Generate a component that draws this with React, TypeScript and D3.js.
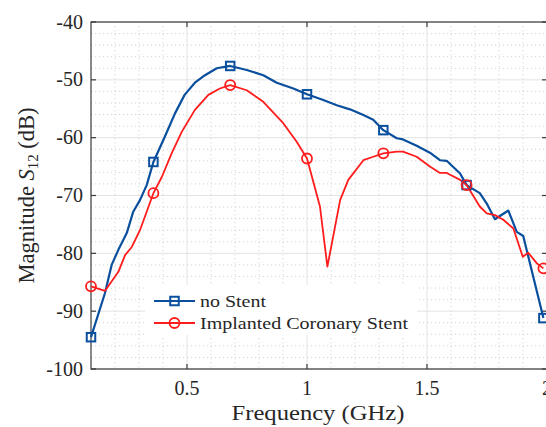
import React from "react";
import * as d3 from "d3";

const freqNoStent = [0.1, 0.158, 0.186, 0.214, 0.249, 0.276, 0.304, 0.332, 0.36, 0.408, 0.45, 0.49, 0.533, 0.575, 0.624, 0.68, 0.749, 0.818, 0.874, 0.943, 1.0, 1.068, 1.124, 1.179, 1.235, 1.276, 1.318, 1.374, 1.4, 1.457, 1.512, 1.554, 1.582, 1.638, 1.665, 1.72, 1.749, 1.783, 1.839, 1.874, 1.901, 1.985];
const valNoStent = [-94.5, -86.9, -82.0, -79.4, -76.5, -72.8, -70.8, -68.2, -64.2, -59.8, -55.8, -52.6, -50.5, -49.2, -48.0, -47.6, -48.3, -49.2, -50.5, -51.5, -52.5, -53.5, -54.4, -55.1, -56.1, -56.9, -58.7, -60.1, -60.3, -61.4, -62.6, -63.9, -64.0, -66.2, -68.2, -69.6, -71.4, -74.1, -72.6, -76.3, -77.0, -91.2];

const freqStent = [0.1, 0.158, 0.214, 0.242, 0.27, 0.304, 0.332, 0.36, 0.395, 0.436, 0.478, 0.533, 0.589, 0.637, 0.68, 0.749, 0.818, 0.901, 0.957, 1.0, 1.054, 1.085, 1.138, 1.172, 1.235, 1.276, 1.318, 1.374, 1.4, 1.457, 1.512, 1.554, 1.582, 1.638, 1.665, 1.72, 1.749, 1.783, 1.818, 1.86, 1.899, 1.922, 1.957, 1.985];
const valStent = [-85.7, -86.5, -83.2, -80.3, -78.9, -76.0, -72.8, -69.6, -66.8, -62.7, -59.0, -55.2, -52.6, -51.5, -50.9, -51.8, -53.8, -57.5, -60.7, -63.6, -71.9, -82.3, -70.8, -67.3, -63.9, -63.3, -62.7, -62.4, -62.4, -63.3, -65.0, -66.1, -66.1, -67.3, -68.2, -71.9, -73.1, -73.4, -74.2, -75.7, -80.6, -79.9, -81.7, -82.6];

const markerFreqs = [0.1, 0.36, 0.68, 1.0, 1.318, 1.665, 1.985];

const xMajorTicks = [0.5, 1, 1.5, 2];
const xTickLabels = ["0.5", "1", "1.5", "2"];
const yMajorTicks = [-40, -50, -60, -70, -80, -90, -100];
const yTickLabels = ["-40", "-50", "-60", "-70", "-80", "-90", "-100"];

const seriesNames = ["no Stent", "Implanted Coronary Stent"];

const BLUE = "#0a4f9e";
const RED = "#ff1c1c";
const FONT = "'Liberation Serif', 'DejaVu Serif', serif";

export default function App() {
  const W = 546, H = 427;
  const L = 91, T = 22, R = 547, B = 369;
  const x = d3.scaleLinear().domain([0.1, 2]).range([L, R]);
  const y = d3.scaleLinear().domain([-100, -40]).range([B, T]);

  const line = d3.line<[number, number]>().x(d => x(d[0])).y(d => y(d[1]));
  const blueData: [number, number][] = freqNoStent.map((f, i) => [f, valNoStent[i]]);
  const redData: [number, number][] = freqStent.map((f, i) => [f, valStent[i]]);
  const blueMarks = blueData.filter(d => markerFreqs.some(m => Math.abs(m - d[0]) < 1e-6));
  const redMarks = redData.filter(d => markerFreqs.some(m => Math.abs(m - d[0]) < 1e-6));

  const xMinor = d3.range(2, 20).map(i => i / 10).filter(v => !xMajorTicks.some(t => Math.abs(t - v) < 1e-6));
  const yMinor = d3.range(-98, -40, 2).filter(v => v % 10 !== 0);
  const sq = 8.5;

  return (
    <svg width={W} height={H} style={{ position: "absolute", left: 0, top: 0, background: "#fff" }} fontFamily={FONT}>
      <defs>
        <clipPath id="plotclip">
          <rect x={L - 6} y={T - 6} width={R - L + 12} height={B - T + 12} />
        </clipPath>
      </defs>
      <rect x={L} y={T} width={R - L} height={B - T} fill="#fff" />
      {xMinor.map(v => (
        <line key={"xm" + v} x1={x(v)} x2={x(v)} y1={T} y2={B} stroke="#c8c8c8" strokeWidth={0.8} strokeDasharray="1.2,2.8" />
      ))}
      {yMinor.map(v => (
        <line key={"ym" + v} x1={L} x2={R} y1={y(v)} y2={y(v)} stroke="#c8c8c8" strokeWidth={0.8} strokeDasharray="1.2,2.8" />
      ))}
      {xMajorTicks.map(v => (
        <line key={"xg" + v} x1={x(v)} x2={x(v)} y1={T} y2={B} stroke="#e3e3e3" strokeWidth={1} />
      ))}
      {yMajorTicks.map(v => (
        <line key={"yg" + v} x1={L} x2={R} y1={y(v)} y2={y(v)} stroke="#e3e3e3" strokeWidth={1} />
      ))}
      <rect x={L} y={T} width={R - L} height={B - T} fill="none" stroke="#3a3a3a" strokeWidth={1.2} />
      {xMajorTicks.map(v => (
        <g key={"xt" + v}>
          <line x1={x(v)} x2={x(v)} y1={B} y2={B - 5} stroke="#3a3a3a" strokeWidth={1.2} />
          <line x1={x(v)} x2={x(v)} y1={T} y2={T + 5} stroke="#3a3a3a" strokeWidth={1.2} />
        </g>
      ))}
      {yMajorTicks.map(v => (
        <g key={"yt" + v}>
          <line x1={L} x2={L + 5} y1={y(v)} y2={y(v)} stroke="#3a3a3a" strokeWidth={1.2} />
          <line x1={R} x2={R - 5} y1={y(v)} y2={y(v)} stroke="#3a3a3a" strokeWidth={1.2} />
        </g>
      ))}
      {xMajorTicks.map((v, i) => (
        <text key={"xl" + v} x={x(v)} y={395} textAnchor="middle" fontSize={20} fill="#262626">{xTickLabels[i]}</text>
      ))}
      {yMajorTicks.map((v, i) => (
        <text key={"yl" + v} x={83} y={y(v) + 6.5} textAnchor="end" fontSize={20} fill="#262626">{yTickLabels[i]}</text>
      ))}
      <text x={318} y={420} textAnchor="middle" fontSize={21} fill="#262626" textLength={173} lengthAdjust="spacingAndGlyphs">Frequency (GHz)</text>
      <text transform={`translate(34,${(T + B) / 2}) rotate(-90)`} textAnchor="middle" fontSize={22.5} fill="#262626">
        Magnitude <tspan fontStyle="italic">S</tspan><tspan fontSize={15} dy={4}>12</tspan><tspan dy={-4}> (dB)</tspan>
      </text>
      <g clipPath="url(#plotclip)">
        <path d={line(blueData) || ""} fill="none" stroke={BLUE} strokeWidth={2.2} strokeLinejoin="round" />
        <path d={line(redData) || ""} fill="none" stroke={RED} strokeWidth={1.8} strokeLinejoin="round" />
        {blueMarks.map((d, i) => (
          <rect key={"bm" + i} x={x(d[0]) - sq / 2} y={y(d[1]) - sq / 2} width={sq} height={sq} fill="none" stroke={BLUE} strokeWidth={2} />
        ))}
        {redMarks.map((d, i) => (
          <circle key={"rm" + i} cx={x(d[0])} cy={y(d[1])} r={5} fill="none" stroke={RED} strokeWidth={1.8} />
        ))}
      </g>
      <rect x={145} y={285} width={272} height={50} fill="#fff" />
      <line x1={154} x2={195} y1={301} y2={301} stroke={BLUE} strokeWidth={2.2} />
      <rect x={174.5 - sq / 2} y={301 - sq / 2} width={sq} height={sq} fill="none" stroke={BLUE} strokeWidth={2} />
      <text x={200} y={307} fontSize={17} fill="#262626" textLength={66} lengthAdjust="spacingAndGlyphs">{seriesNames[0]}</text>
      <line x1={154} x2={195} y1={323} y2={323} stroke={RED} strokeWidth={1.8} />
      <circle cx={174.5} cy={323} r={5} fill="none" stroke={RED} strokeWidth={1.8} />
      <text x={200} y={329} fontSize={17} fill="#262626" textLength={208} lengthAdjust="spacingAndGlyphs">{seriesNames[1]}</text>
    </svg>
  );
}
